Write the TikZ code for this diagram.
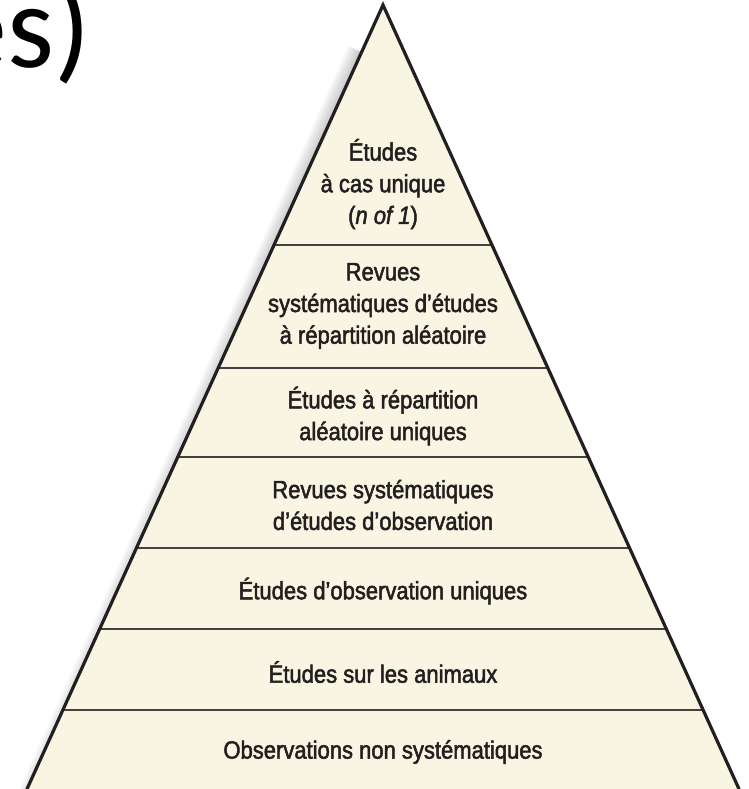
\documentclass[tikz,border=0pt]{standalone}
\usepackage{fontspec}
\setmainfont{Liberation Sans}
\newfontfamily\titlefont{Carlito}
\newfontfamily\bandfont[FakeStretch=0.88,FakeBold=2]{Liberation Sans}
\usetikzlibrary{calc,positioning}

\definecolor{cream}{RGB}{248,245,226}
\definecolor{ink}{RGB}{35,31,32}

\tikzset{
    band/.style={align=center, text=ink, inner sep=0pt,
        font=\bandfont\fontsize{25}{31.7}\selectfont},
    divider/.style={draw=ink!85, line width=2pt},
    side/.style={draw=ink, line width=3.2pt, line cap=round}
}

\begin{document}
\begin{tikzpicture}[x=1pt,y=-1pt]
        \useasboundingbox (0,0) rectangle (748,789);

        % Title (cut off)
        \node[font=\titlefont\fontsize{120}{120}\selectfont, anchor=base east, inner sep=0pt] (title) at (91,68) {es)};

        % Corners
        \coordinate (apex) at (383,5);
        \coordinate (bl) at (27,789);
        \coordinate (br) at (739,789);

        % Shadow on the left side
        \foreach \w in {3,6,...,30}
            \draw[black, opacity=0.025, line width=\w pt] ($(apex)!0.06!(bl)$) -- ($(bl)+(0,20)$);

        % Pyramid
        \fill[cream] (apex) -- (bl) -- (br) -- cycle;

        % Divider ends
        \coordinate (l1) at ($(apex)!0.3061!(bl)$);
        \coordinate (r1) at ($(apex)!0.3061!(br)$);
        \coordinate (l2) at ($(apex)!0.4630!(bl)$);
        \coordinate (r2) at ($(apex)!0.4630!(br)$);
        \coordinate (l3) at ($(apex)!0.5765!(bl)$);
        \coordinate (r3) at ($(apex)!0.5765!(br)$);
        \coordinate (l4) at ($(apex)!0.6926!(bl)$);
        \coordinate (r4) at ($(apex)!0.6926!(br)$);
        \coordinate (l5) at ($(apex)!0.7959!(bl)$);
        \coordinate (r5) at ($(apex)!0.7959!(br)$);
        \coordinate (l6) at ($(apex)!0.8992!(bl)$);
        \coordinate (r6) at ($(apex)!0.8992!(br)$);

        % Dividers
        \draw[divider] (l1) -- (r1);
        \draw[divider] (l2) -- (r2);
        \draw[divider] (l3) -- (r3);
        \draw[divider] (l4) -- (r4);
        \draw[divider] (l5) -- (r5);
        \draw[divider] (l6) -- (r6);

        % Sides
        \draw[side] (bl) -- (apex) -- (br);

        % Levels
        \node[band] (single) at (383,184) {Études\\à cas unique\\(\textit{n of 1})};
        \node[band] (rctReview) at (383,306) {Revues\\systématiques d’études\\à répartition aléatoire};
        \node[band] (rct) at (383,416) {Études à répartition\\aléatoire uniques};
        \node[band] (obsReview) at (383,505) {Revues systématiques\\d’études d’observation};
        \node[band] (obs) at (383,591) {Études d’observation uniques};
        \node[band] (animal) at (383,672) {Études sur les animaux};
        \node[band] (unsyst) at (383,752) {Observations non systématiques};
\end{tikzpicture}
\end{document}
